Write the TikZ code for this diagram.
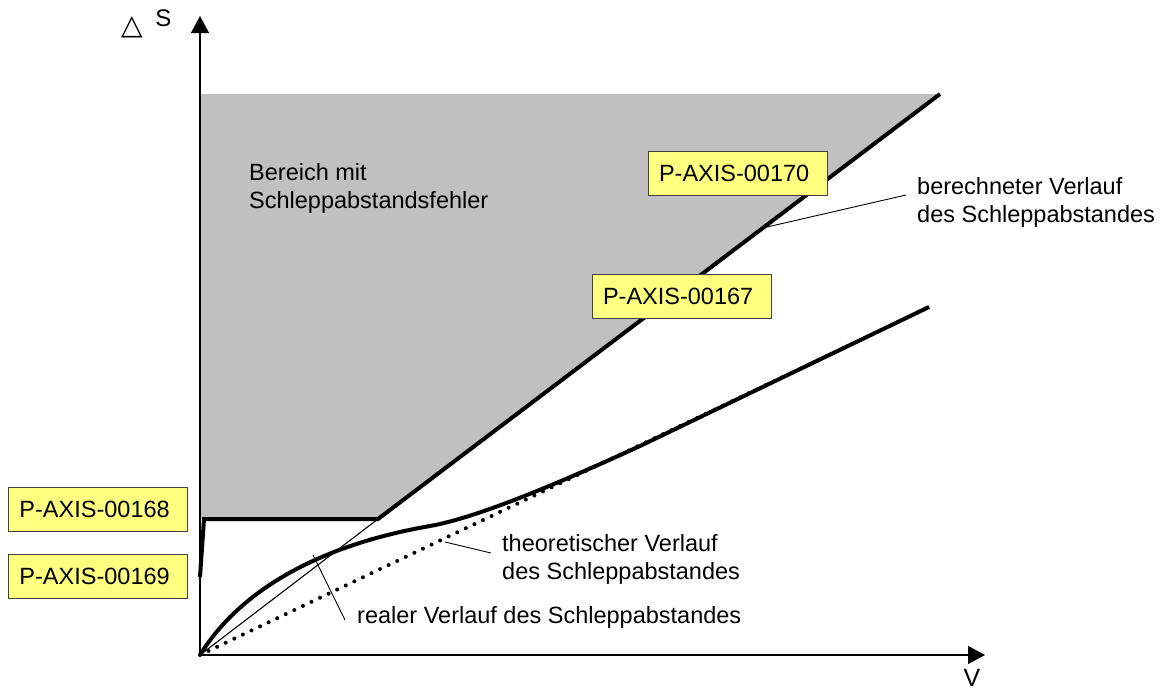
\documentclass[tikz,border=0pt]{standalone}
\usepackage{fontspec}
\setmainfont{Liberation Sans}
\newfontfamily\symfont{DejaVu Sans}
\usetikzlibrary{arrows.meta}
\definecolor{regiongray}{RGB}{192,192,192}
\definecolor{boxyellow}{RGB}{255,255,128}
\definecolor{boxborder}{RGB}{64,64,64}
\begin{document}
\begin{tikzpicture}[x=1pt,y=-1pt,
  lbl/.style={font=\fontsize{23.5}{27.5}\selectfont, inner sep=0pt, align=left, anchor=base west},
  tag/.style={draw=boxborder, fill=boxyellow, line width=0.9pt, minimum width=179pt, minimum height=44pt,
              inner xsep=11pt, text width=157pt, align=left, font=\fontsize{23.5}{27.5}\selectfont},
  axis/.style={line width=1.3pt, -{Triangle[length=17pt,width=18pt]}},
  thickline/.style={line width=4pt},
  thinline/.style={line width=1.1pt},
  leader/.style={line width=0.9pt},
  theo/.style={line width=4pt, line cap=round, dash pattern=on 0pt off 9.5pt}]
\useasboundingbox (0,0) rectangle (1174,691);

% region
\fill[regiongray] (200,94) -- (940,94) -- (378,519) -- (200,519) -- cycle;

% coordinates
\coordinate (O) at (200,655);
\coordinate (ytip) at (200,16);
\coordinate (xtip) at (985,655);
\coordinate (topR) at (940,94);
\coordinate (knee) at (378,519);
\coordinate (corner) at (204,519);
\coordinate (drop) at (200,577);
\coordinate (realend) at (929,307);
\coordinate (theoend) at (852,344);

% axes
\draw[axis] (O) -- (ytip);
\draw[axis] (O) -- (xtip);

% curves
\draw[thinline] (O) -- (knee);
\draw[theo] (O) -- (theoend);
\draw[thickline] (O) .. controls (240,590) and (320,545) .. (430,526)
  .. controls (470,519) and (540,492) .. (640,446) -- (realend);
\draw[thickline] (topR) -- (knee) -- (corner) -- (drop);

% axis labels
\node[inner sep=0pt, font=\fontsize{24}{28}\selectfont] (S) at (163.5,18.5) {S};
\node[inner sep=0pt, font=\fontsize{25}{29}\selectfont] (V) at (972,678) {V};
\node[inner sep=0pt, font=\fontsize{28}{32}\selectfont\symfont] (delta) at (132,27.5) {△};

% labels (base anchor = last line baseline)
\node[lbl] (bereich) at (249,208) {Bereich mit\\Schleppabstandsfehler};
\node[lbl] (berech) at (917,222) {berechneter Verlauf\\des Schleppabstandes};
\node[lbl] (theor) at (502,579) {theoretischer Verlauf\\des Schleppabstandes};
\node[lbl] (realer) at (357,623) {realer Verlauf des Schleppabstandes};

% leaders
\coordinate (pBerech) at (767,227);
\coordinate (eBerech) at (906,195);
\coordinate (pTheor) at (445,542);
\coordinate (eTheor) at (491,553);
\coordinate (pReal) at (313,555);
\coordinate (eReal) at (345,620);
\draw[leader] (pBerech) -- (eBerech);
\draw[leader] (pTheor) -- (eTheor);
\draw[leader] (pReal) -- (eReal);

% tags
\node[tag] (t170) at (737.5,173) {P-AXIS-00170};
\node[tag] (t167) at (681.5,296.5) {P-AXIS-00167};
\node[tag] (t168) at (98,509) {P-AXIS-00168};
\node[tag] (t169) at (98,576) {P-AXIS-00169};
\end{tikzpicture}
\end{document}
